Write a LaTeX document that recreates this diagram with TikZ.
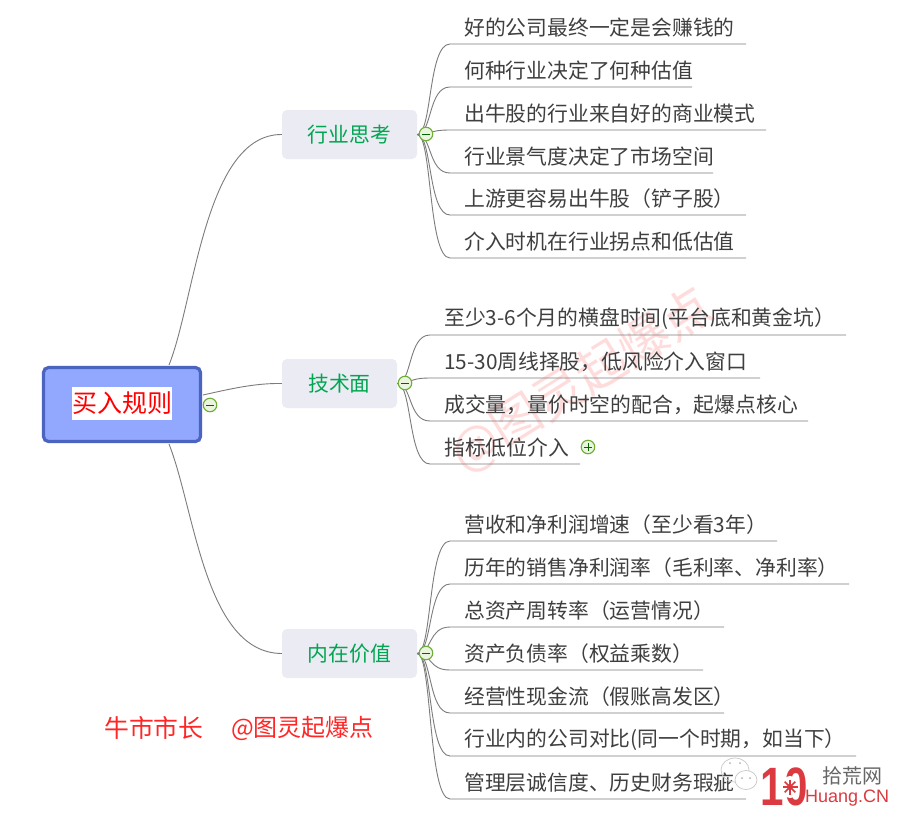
\documentclass[tikz,border=0pt]{standalone}
\usepackage{fontspec}
\setmainfont{Noto Sans CJK SC}
\newfontfamily\latinbold{Liberation Sans}
\definecolor{branchc}{HTML}{7C7C7C}
\definecolor{leaftxt}{HTML}{3F3F3F}
\definecolor{subfill}{HTML}{EAEBF3}
\definecolor{subtxt}{HTML}{00A651}
\definecolor{rootfill}{HTML}{92A8FF}
\definecolor{rootline}{HTML}{4A64C0}
\definecolor{knobline}{HTML}{6DAE35}
\definecolor{knobfill}{HTML}{EAF4DF}
\definecolor{logored}{HTML}{DB3A40}
\definecolor{markpink}{HTML}{FFDCDC}
\tikzset{
  x=1pt,y=-1pt,
  branch/.style={draw=branchc,line width=0.9pt},
  leaftext/.style={anchor=west,inner sep=0pt,text=leaftxt,font=\fontsize{20.8}{25}\selectfont},
  subnode/.style={fill=subfill,rounded corners=5pt,text=subtxt,minimum height=49pt,inner sep=0pt,font=\fontsize{20.8}{25}\selectfont},
  knob/.style={circle,draw=knobline,line width=1.1pt,fill=knobfill,minimum size=13.5pt,inner sep=0pt},
  minusknob/.style={knob,path picture={\draw[black!60!green,line width=1pt] ([xshift=-4pt]path picture bounding box.center) -- ([xshift=4pt]path picture bounding box.center);}},
  plusknob/.style={knob,path picture={\draw[black!60!green,line width=1pt] ([xshift=-4pt]path picture bounding box.center) -- ([xshift=4pt]path picture bounding box.center) ([yshift=-4pt]path picture bounding box.center) -- ([yshift=4pt]path picture bounding box.center);}},
}
% #1 name, #2 parent, #3 underline start x, #4 underline y, #5 underline end x, #6 text x, #7 text
\newcommand{\leafitem}[7]{%
  \coordinate (#1start) at (#3,#4);
  \coordinate (#1end) at (#5,#4);
  \node[leaftext] (#1) at (#6,#4-16) {#7};
  \draw[branch] (#2.east) .. controls +(15,0) and +(-22,0) .. (#1start) -- (#1end);
}
\begin{document}
\begin{tikzpicture}
\useasboundingbox (0,0) rectangle (902,817);
\fill[white] (0,0) rectangle (902,817);
% watermark
\node[rotate=32,text=markpink,inner sep=0pt,font=\fontsize{50}{54}\selectfont] (mark) at (582,381) {@图灵起爆点};
% main nodes
\node[draw=rootline,line width=3.2pt,fill=rootfill,rounded corners=5pt,minimum width=157pt,minimum height=74pt,inner sep=0pt] (root) at (122,404.5) {};
\node[fill=white,inner sep=0pt,minimum width=99pt,minimum height=33pt,text=red,font=\fontsize{25}{28}\selectfont] (roottext) at (122,403.5) {买入规则};
\node[subnode,minimum width=135pt] (hy) at (349.5,134.5) {行业思考};
\node[subnode,minimum width=115pt] (js) at (339.5,383.5) {技术面};
\node[subnode,minimum width=135pt] (nz) at (349.5,653.5) {内在价值};
% root connectors
\coordinate (roott) at (169,365);
\coordinate (rootm) at (203,395);
\coordinate (rootb) at (169,444);
\draw[branch] (roott) .. controls (195,300) and (205,134) .. (hy.west);
\draw[branch] (rootm) .. controls (230,389) and (255,383) .. (js.west);
\draw[branch] (rootb) .. controls (195,510) and (205,653) .. (nz.west);
% leaves
\leafitem{a}{hy}{450}{44}{746}{464}{好的公司最终一定是会赚钱的}
\leafitem{b}{hy}{450}{87}{692}{464}{何种行业决定了何种估值}
\leafitem{c}{hy}{450}{130}{766}{464}{出牛股的行业来自好的商业模式}
\leafitem{d}{hy}{450}{173}{713}{464}{行业景气度决定了市场空间}
\leafitem{e}{hy}{450}{215}{746}{464}{上游更容易出牛股（铲子股）}
\leafitem{f}{hy}{450}{258}{746}{464}{介入时机在行业拐点和低估值}
\leafitem{g}{js}{430}{335}{846}{444}{至少3-6个月的横盘时间(平台底和黄金坑）}
\leafitem{h}{js}{430}{378}{760}{444}{15-30周线择股，低风险介入窗口}
\leafitem{i}{js}{430}{421}{808}{444}{成交量，量价时空的配合，起爆点核心}
\leafitem{j}{js}{430}{464}{580}{444}{指标低位介入}
\leafitem{k}{nz}{450}{541}{777}{464}{营收和净利润增速（至少看3年）}
\leafitem{l}{nz}{450}{584}{849}{464}{历年的销售净利润率（毛利率、净利率）}
\leafitem{m}{nz}{450}{627}{724}{464}{总资产周转率（运营情况）}
\leafitem{n}{nz}{450}{670}{703}{464}{资产负债率（权益乘数）}
\leafitem{o}{nz}{450}{713}{724}{464}{经营性现金流（假账高发区）}
\leafitem{p}{nz}{450}{756}{856}{464}{行业内的公司对比(同一个时期，如当下）}
\leafitem{q}{nz}{450}{799}{746}{464}{管理层诚信度、历史财务瑕疵}
% knobs
\node[minusknob] (k0) at (210,405) {};
\node[minusknob] (k1) at (426,134) {};
\node[minusknob] (k2) at (405,383) {};
\node[minusknob] (k3) at (426,653) {};
\node[plusknob] (k4) at (588,447) {};
% caption
\node[anchor=west,inner sep=0pt,text=red!85,font=\fontsize{24.8}{28}\selectfont] (cap1) at (104,728) {牛市市长};
\node[anchor=west,inner sep=0pt,text=red!85,font=\fontsize{24}{28}\selectfont] (cap2) at (231,728) {@图灵起爆点};
% logo
\draw[black!22,line width=0.7pt] (735,770) ellipse (14 and 12);
\draw[black!22,line width=0.7pt,fill=white] (746,780) ellipse (11 and 9.5);
\fill[black!30] (742,778) circle (1) (750,778) circle (1) (730,763) circle (1) (740,763) circle (1);
\node[inner sep=0pt,text=logored,font=\latinbold\bfseries\fontsize{54}{54}\selectfont,xscale=0.78] (ten) at (784,787) {10};
\fill[white] (790,787) ellipse (8.5 and 11);
\foreach \a in {0,45,...,315}{\draw[logored,line width=1.6pt] (790,787) -- ++(\a:7.5);}
\fill[logored] (790,787) circle (3);
\node[anchor=west,inner sep=0pt,text=black!60,font=\fontsize{20}{24}\selectfont] (cn) at (822,776) {拾荒网};
\node[anchor=west,inner sep=0pt,text=logored,font=\latinbold\fontsize{18}{22}\selectfont] (hu) at (805,798) {Huang.CN};
\end{tikzpicture}
\end{document}
